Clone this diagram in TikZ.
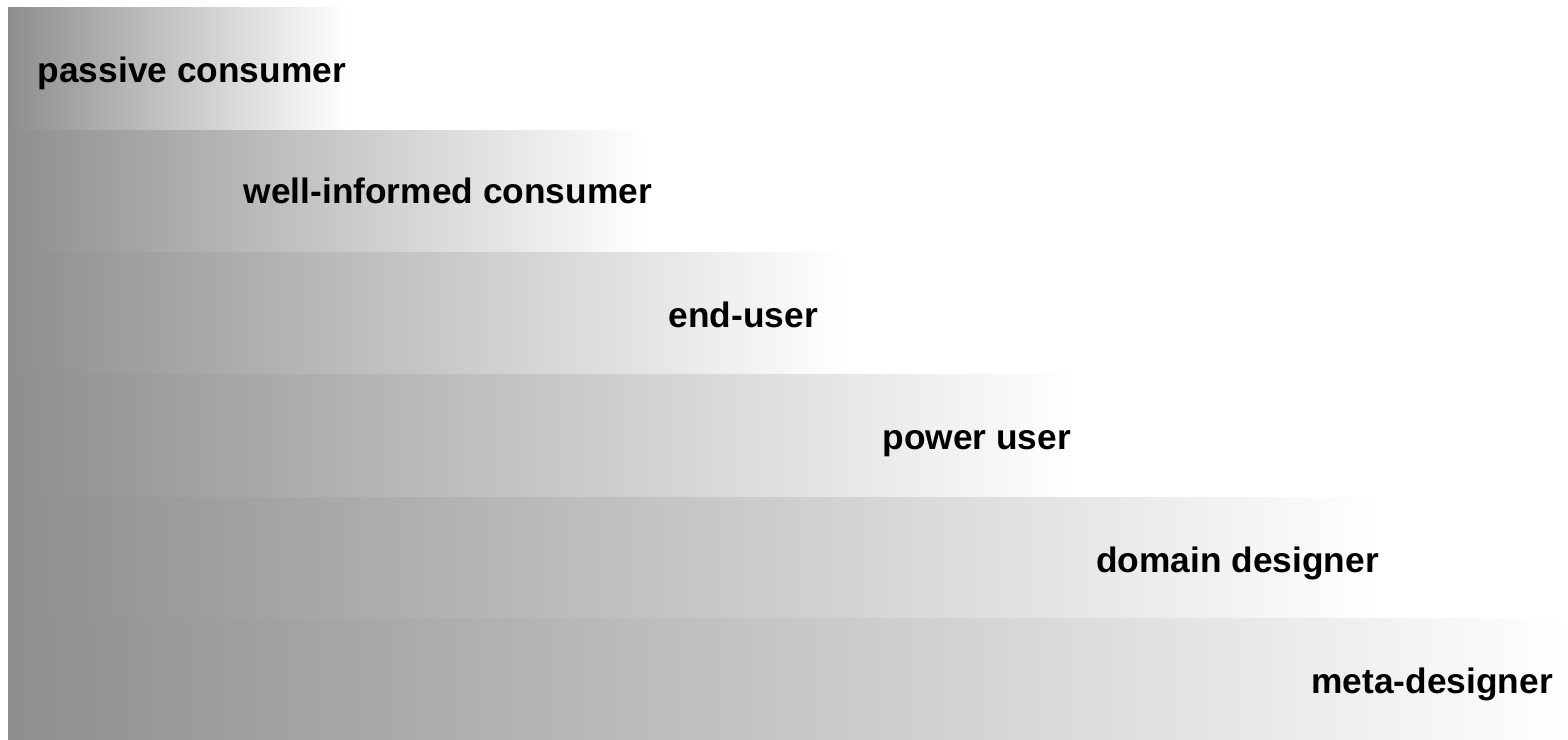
\documentclass[tikz,border=0pt]{standalone}
\usepackage{fontspec}
\setmainfont{Liberation Sans}
\definecolor{bargray}{HTML}{8E8E8E}
\begin{document}
\begin{tikzpicture}[x=1pt,y=-1pt,
  bar/.style={left color=bargray,right color=white,draw=none},
  lbl/.style={anchor=base east,inner sep=0pt,font=\fontsize{35.3}{40}\selectfont\bfseries}]
\useasboundingbox[fill=white] (0,0) rectangle (1568,739);
\shade[bar] (8,7) rectangle (348,130);
\shade[bar] (8,130) rectangle (648,252);
\shade[bar] (8,252) rectangle (845,374);
\shade[bar] (8,374) rectangle (1077,497);
\shade[bar] (8,497) rectangle (1380,618);
\shade[bar] (8,618) rectangle (1568,739);
\node[lbl] (l1) at (346,82) {passive consumer};
\node[lbl] (l2) at (652,203) {well-informed consumer};
\node[lbl] (l3) at (818,327) {end-user};
\node[lbl] (l4) at (1071,449) {power user};
\node[lbl] (l5) at (1379,572) {domain designer};
\node[lbl] (l6) at (1553,693) {meta-designer};
\end{tikzpicture}
\end{document}
